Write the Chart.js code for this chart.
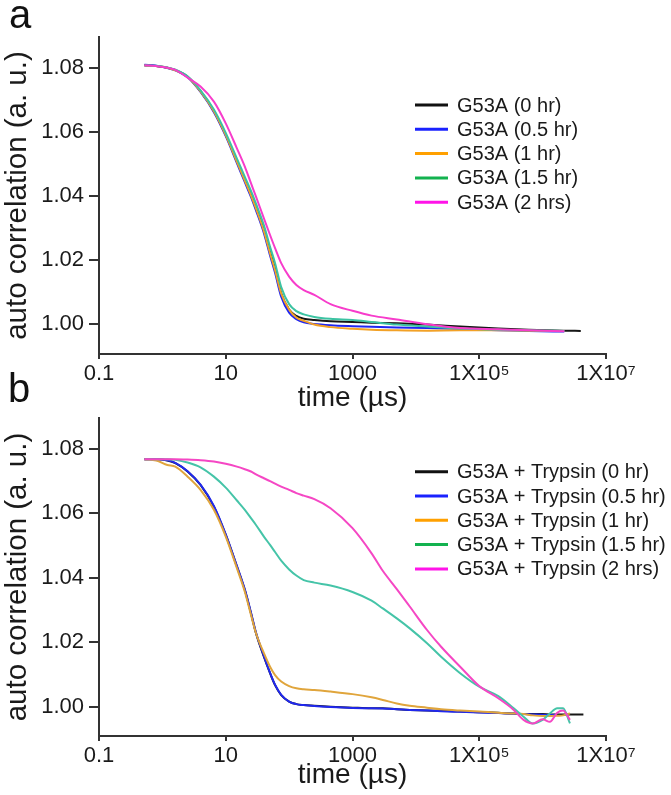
<!DOCTYPE html>
<html>
<head>
<meta charset="utf-8">
<script src="https://cdn.jsdelivr.net/npm/chart.js@4.4.1/dist/chart.umd.min.js"></script>
<style>
  body { margin: 0; background: #fff; }
  #page { position: relative; width: 671px; height: 795px; overflow: hidden; font-family: "Liberation Sans", Arial, sans-serif; }
  canvas { position: absolute; left: 0; }
  #chartA { top: 0; }
  #chartB { top: 380px; }
  .panel { position: absolute; font-size: 40px; line-height: 40px; color: #111; }
</style>
</head>
<body>
<div id="page">
  <canvas id="chartA" width="671" height="415"></canvas>
  <canvas id="chartB" width="671" height="415"></canvas>
  <div class="panel" style="left:9px; top:-6px;">a</div>
  <div class="panel" style="left:8px; top:368px;">b</div>
</div>
<script>
// --- data ---
const xTickVals = [0.1, 10, 1000, 1e5, 1e7];
const xTickLabels = ['0.1', '10', '1000', '1X10\u2075', '1X10\u2077'];
const yTickVals = [1.00, 1.02, 1.04, 1.06, 1.08];

const labelsA = ['G53A (0 hr)', 'G53A (0.5 hr)', 'G53A (1 hr)', 'G53A (1.5 hr)', 'G53A (2 hrs)'];
const labelsB = ['G53A + Trypsin (0 hr)', 'G53A + Trypsin (0.5 hr)', 'G53A + Trypsin (1 hr)',
                 'G53A + Trypsin (1.5 hr)', 'G53A + Trypsin (2 hrs)'];

// panel a: lag time (µs)
const timeA = [0.52, 0.8, 1.2, 1.6, 2.5, 4, 6.5, 10, 15, 20, 25, 30, 40, 50, 60, 75, 100, 130, 170, 250,
               450, 1000, 2000, 5000, 15000, 50000, 2e5, 6e5, 2.2e6, 4e6];
const a0hr  = [1.0809,1.0806,1.0801,1.0794,1.0773,1.0728,1.0666,1.0591,1.0509,1.0450,1.0405,1.0364,1.0294,1.0226,1.0174,1.0096,1.0045,1.0025,1.0016,1.0012,
               1.0008,1.0006,1.0004,1.0002,0.9998,0.9992,0.9986,0.9982,0.9979,0.9978];
const a05hr = [1.0810,1.0807,1.0800,1.0793,1.0771,1.0725,1.0662,1.0587,1.0503,1.0443,1.0397,1.0355,1.0284,1.0214,1.0160,1.0085,1.0035,1.0015,1.0005,1.0000,
               0.9996,0.9993,0.9991,0.9989,0.9987,0.9984,0.9980,0.9978,0.9976,null];
const a1hr  = [1.0808,1.0806,1.0801,1.0793,1.0772,1.0727,1.0665,1.0590,1.0507,1.0448,1.0402,1.0361,1.0290,1.0221,1.0168,1.0095,1.0045,1.0020,1.0010,0.9998,
               0.9990,0.9985,0.9982,0.9980,0.9979,0.9980,0.9980,0.9979,0.9978,null];
const a15hr = [1.0808,1.0807,1.0802,1.0795,1.0774,1.0730,1.0670,1.0597,1.0517,1.0460,1.0416,1.0376,1.0308,1.0241,1.0190,1.0115,1.0062,1.0040,1.0030,1.0022,
               1.0016,1.0012,1.0006,0.9998,0.9992,0.9986,0.9982,0.9980,0.9978,null];
const a2hr  = [1.0809,1.0806,1.0801,1.0794,1.0770,1.0742,1.0695,1.0627,1.0549,1.0492,1.0440,1.0398,1.0330,1.0278,1.0237,1.0190,1.0148,1.0122,1.0106,1.0091,
               1.0062,1.0041,1.0026,1.0014,0.9999,0.9987,0.9983,0.9980,0.9977,null];

// panel b: lag time (µs)
const timeB = [0.52, 0.8, 1.2, 1.6, 2.5, 4, 6.5, 10, 15, 20, 25, 30, 40, 50, 60, 75, 100, 130, 170, 250,
               450, 1000, 2000, 3000, 5000, 8000, 15000, 25000, 50000, 1e5, 2e5, 3.5e5, 5e5, 7e5, 1e6, 1.3e6, 1.7e6, 2.1e6, 2.7e6, 4.4e6];
const b0hr  = [1.0768,1.0768,1.0764,1.0756,1.0730,1.0688,1.0621,1.0533,1.0435,1.0362,1.0290,1.0228,1.0155,1.0104,1.0067,1.0036,1.0016,1.0008,1.0005,1.0003,
               1.0000,0.9997,0.9995,0.9995,0.9992,0.9990,0.9988,0.9987,0.9985,0.9983,0.9981,0.9979,0.9977,0.9977,0.9977,0.9976,0.9976,0.9976,0.9976,0.9976];
const b05hr = [1.0768,1.0768,1.0765,1.0757,1.0731,1.0689,1.0623,1.0535,1.0437,1.0364,1.0292,1.0230,1.0157,1.0105,1.0068,1.0037,1.0016,1.0008,1.0005,1.0002,
               0.9999,0.9996,0.9995,0.9994,0.9992,0.9990,0.9988,0.9986,0.9984,0.9982,0.9980,0.9978,0.9977,0.9976,0.9975,0.9974,0.9975,null,null,null];
const b1hr  = [1.0768,1.0764,1.0750,1.0745,1.0714,1.0673,1.0611,1.0528,1.0430,1.0357,1.0285,1.0228,1.0166,1.0124,1.0098,1.0078,1.0064,1.0057,1.0054,1.0052,
               1.0047,1.0039,1.0029,1.0021,1.0010,1.0003,0.9997,0.9992,0.9988,0.9985,0.9981,0.9979,0.9977,0.9973,0.9971,0.9971,0.9972,0.9973,0.9979,null];
const b15hr = [1.0768,1.0768,1.0768,1.0766,1.0758,1.0743,1.0714,1.0680,1.0640,1.0611,1.0585,1.0564,1.0528,1.0502,1.0480,1.0453,1.0426,1.0407,1.0393,1.0385,
               1.0376,1.0356,1.0329,1.0305,1.0274,1.0243,1.0197,1.0155,1.0104,1.0062,1.0033,0.9995,0.9969,0.9948,0.9959,0.9979,0.9995,0.9995,0.9948,null];
const b2hr  = [1.0768,1.0768,1.0768,1.0768,1.0767,1.0765,1.0761,1.0754,1.0745,1.0737,1.0730,1.0721,1.0709,1.0700,1.0692,1.0683,1.0673,1.0663,1.0655,1.0644,
               1.0616,1.0554,1.0476,1.0422,1.0365,1.0311,1.0238,1.0186,1.0124,1.0064,1.0026,0.9990,0.9959,0.9948,0.9961,0.9953,0.9981,0.9988,0.9959,null];

// --- styles ---
const FONT = '"Liberation Sans", Arial, sans-serif';
const lineColorsA = ['#161616', '#1f25f2', '#f2a126', '#3cc3a2', '#f73ccb'];
const lineColorsB = ['#161616', '#2028ee', '#e0a53c', '#45c4a8', '#f547c4'];
const swatchColors = ['#111111', '#1a22ff', '#ffa000', '#13b24f', '#ff14e8'];

Chart.defaults.font.family = FONT;
Chart.defaults.color = '#1a1a1a';

// legend drawn inside the plot, like the original figure
const insideLegend = {
  id: 'insideLegend',
  afterDatasetsDraw(chart, args, opts) {
    const ctx = chart.ctx;
    ctx.save();
    ctx.font = '20px ' + FONT;
    ctx.textBaseline = 'middle';
    ctx.fillStyle = '#1a1a1a';
    opts.labels.forEach((lab, i) => {
      const y = opts.top + i * opts.gap;
      ctx.strokeStyle = swatchColors[i];
      ctx.lineWidth = 3;
      ctx.beginPath();
      ctx.moveTo(opts.x, y);
      ctx.lineTo(opts.x + 33, y);
      ctx.stroke();
      ctx.fillText(lab, opts.x + 42, y + 1);
    });
    ctx.restore();
  }
};

function makeSets(times, series, labels, colors) {
  return series.map((vals, i) => ({
    label: labels[i],
    data: times.map((t, j) => ({ x: t, y: vals[j] })),
    borderColor: colors[i],
    borderWidth: 2,
    pointRadius: 0,
    cubicInterpolationMode: 'monotone',
    order: series.length - i
  }));
}

function makeChart(id, sets, cfg) {
  return new Chart(document.getElementById(id), {
    type: 'line',
    data: { datasets: sets },
    options: {
      responsive: false,
      animation: false,
      devicePixelRatio: 1,
      layout: { padding: { left: 0, right: 65, top: cfg.top, bottom: 0 } },
      plugins: {
        legend: { display: false },
        tooltip: { enabled: false },
        insideLegend: { labels: cfg.labels, x: 415, top: cfg.legendTop, gap: 24.3 }
      },
      scales: {
        x: {
          type: 'logarithmic',
          min: 0.1, max: 1e7,
          afterBuildTicks: s => { s.ticks = xTickVals.map(v => ({ value: v })); },
          afterFit: s => { s.height = cfg.xHeight; },
          ticks: {
            autoSkip: false, maxRotation: 0, padding: 2,
            font: { size: 22 }, color: '#1a1a1a',
            callback: (v, i) => xTickLabels[i]
          },
          grid: { drawOnChartArea: false, tickLength: 5, color: '#333', lineWidth: 2 },
          border: { color: '#333', width: 2 },
          title: { display: true, text: 'time (\u00b5s)', font: { size: 28 }, color: '#1a1a1a',
                   padding: { top: 0, bottom: cfg.titlePad } }
        },
        y: {
          min: cfg.yMin, max: cfg.yMax,
          afterBuildTicks: s => { s.ticks = yTickVals.map(v => ({ value: v })); },
          afterFit: s => { s.width = 99; },
          ticks: { font: { size: 22 }, color: '#1a1a1a', padding: 5, callback: v => v.toFixed(2) },
          grid: { drawOnChartArea: false, tickLength: 10, color: '#333', lineWidth: 2 },
          border: { color: '#333', width: 2 },
          title: { display: true, text: 'auto correlation (a. u.)', font: { size: 29.5 }, color: '#1a1a1a', padding: 0 }
        }
      }
    },
    plugins: [insideLegend]
  });
}

makeChart('chartA', makeSets(timeA, [a0hr, a05hr, a1hr, a15hr, a2hr], labelsA, lineColorsA),
  { top: 37, xHeight: 61, titlePad: 0, yMin: 0.9906, yMax: 1.0897, labels: labelsA, legendTop: 105 });

makeChart('chartB', makeSets(timeB, [b0hr, b05hr, b1hr, b15hr, b2hr], labelsB, lineColorsB),
  { top: 38, xHeight: 59, titlePad: 3, yMin: 0.9909, yMax: 1.0896, labels: labelsB, legendTop: 91.7 });
</script>
</body>
</html>
